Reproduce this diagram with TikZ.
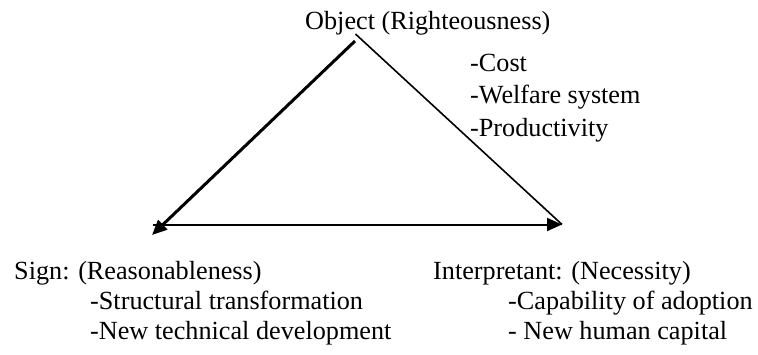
\documentclass[tikz,border=0pt]{standalone}
\usepackage{fontspec}
\setmainfont{Liberation Serif}
\usetikzlibrary{arrows.meta}
\begin{document}
\begin{tikzpicture}[x=1pt,y=-1pt,
  lbl/.style={anchor=base west,inner sep=0pt,font=\fontsize{26.2}{30}\selectfont},
  arr/.style={-{Triangle[length=15pt,width=13pt]}}]
\useasboundingbox (0,0) rectangle (758,354);
\coordinate (apex) at (355.5,34);
\coordinate (apexL) at (355,41);
\coordinate (sgn) at (152,235);
\coordinate (hstart) at (153,224.5);
\coordinate (intp) at (562,224.5);
\node[lbl] (obj) at (305,29) {Object (Righteousness)};
\node[lbl] (o1) at (470,71) {-Cost};
\node[lbl] (o2) at (470,103) {-Welfare system};
\node[lbl] (o3) at (470,136) {-Productivity};
\node[lbl] (sg) at (14,279) {Sign: (Reasonableness)};
\node[lbl] (s1) at (90,309) {-Structural transformation};
\node[lbl] (s2) at (90,339) {-New technical development};
\node[lbl] (ip) at (433,279) {Interpretant: (Necessity)};
\node[lbl] (i1) at (508,309) {-Capability of adoption};
\node[lbl] (i2) at (508,339) {- New human capital};
\draw[line width=1.6pt] (apex) -- (intp);
\draw[arr,line width=3pt] (apexL) -- (sgn);
\draw[arr,line width=2pt] (hstart) -- (intp);
\end{tikzpicture}
\end{document}
